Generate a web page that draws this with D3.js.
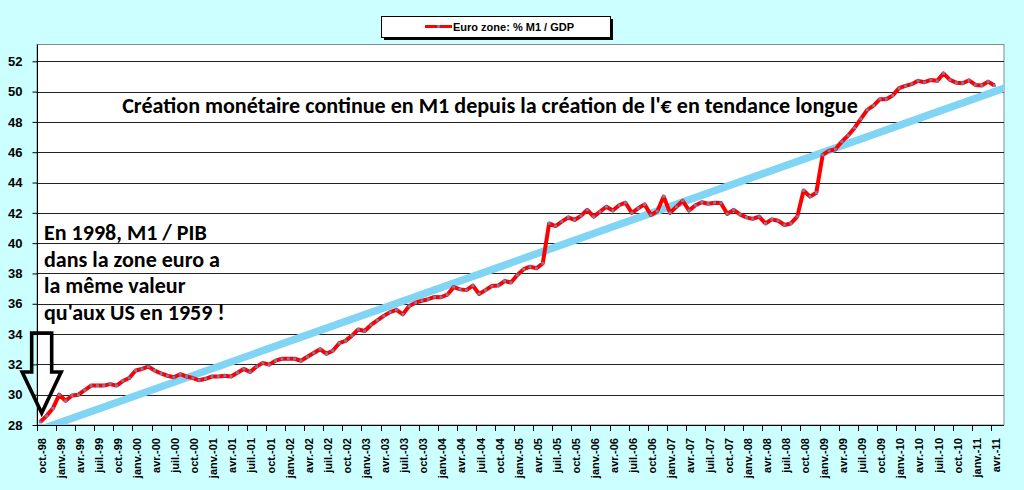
<!DOCTYPE html>
<html>
<head>
<meta charset="utf-8">
<script src="https://cdn.jsdelivr.net/npm/d3@7"></script>
<style>
  html, body { margin: 0; padding: 0; background: #ccffff; }
  svg { display: block; }
</style>
</head>
<body>
<svg id="chart" width="1024" height="490"></svg>
<script>
// french month abbreviations used by the category axis
const moisFr = ['janv.', 'févr.', 'mars', 'avr.', 'mai', 'juin', 'juil.', 'août', 'sept.', 'oct.', 'nov.', 'déc.'];
const firstMonth = new Date(1998, 9, 1);  // oct.-98
const lastMonth = new Date(2011, 4, 1);   // mai-11 (last slot, no value)

// Euro zone M1 / GDP in %, one value per month from oct.-98
const m1Gdp = [
  28.2, 28.6, 29.1, 30.0, 29.6, 29.95, 30.0, 30.3, 30.6, 30.6,
  30.6, 30.7, 30.6, 30.9, 31.1, 31.6, 31.7, 31.85, 31.6, 31.4,
  31.25, 31.15, 31.35, 31.2, 31.1, 30.95, 31.05, 31.2, 31.2, 31.25,
  31.2, 31.45, 31.7, 31.5, 31.85, 32.1, 31.98, 32.25, 32.37, 32.37,
  32.37, 32.24, 32.5, 32.75, 33.0, 32.7, 32.9, 33.4, 33.55, 33.9,
  34.3, 34.2, 34.6, 34.9, 35.2, 35.45, 35.6, 35.3, 35.85, 36.07,
  36.2, 36.3, 36.45, 36.43, 36.6, 37.1, 36.95, 36.9, 37.2, 36.65,
  36.9, 37.17, 37.2, 37.5, 37.4, 37.9, 38.28, 38.45, 38.34, 38.67,
  41.3, 41.13, 41.42, 41.7, 41.53, 41.8, 42.2, 41.75, 42.08, 42.4,
  42.15, 42.5, 42.67, 42.0, 42.3, 42.56, 41.86, 42.1, 43.08, 42.0,
  42.4, 42.8, 42.15, 42.5, 42.7, 42.6, 42.67, 42.65, 41.93, 42.2,
  41.9, 41.7, 41.6, 41.75, 41.3, 41.57, 41.48, 41.2, 41.3, 41.75,
  43.47, 43.07, 43.33, 45.82, 46.1, 46.2, 46.7, 47.1, 47.6, 48.2,
  48.8, 49.08, 49.5, 49.5, 49.74, 50.23, 50.38, 50.49, 50.71, 50.62,
  50.77, 50.71, 51.2, 50.77, 50.59, 50.55, 50.75, 50.44, 50.4, 50.66,
  50.4
];

const yTicks = d3.range(28, 53, 2);
// long term trend: [month index, value]
const trendPoints = [[0, 27.7], [151, 50.15]];

const seriesName = 'Euro zone:  % M1 / GDP';
const headline = "Création monétaire continue en M1 depuis la création de l'€ en tendance longue";
const noteLines = ['En 1998, M1 / PIB', 'dans la zone euro a', 'la même valeur', "qu'aux US en 1959 !"];

const months = d3.timeMonth.range(firstMonth, d3.timeMonth.offset(lastMonth, 1));
const fmtMonth = d => moisFr[d.getMonth()] + '-' + String(d.getFullYear()).slice(2);

const svg = d3.select('#chart');
const plot = { left: 37, right: 1004, top: 44.5, bottom: 425 };

let x = d3.scaleBand()
  .domain(d3.range(months.length))
  .range([plot.left, plot.right])
  .padding(0);
let bw = x.bandwidth();
let xc = i => x(i) + bw / 2;

let y = d3.scaleLinear()
  .domain([28, 52])
  .range([plot.bottom, 61.3]);

// plot area
svg.append('rect')
  .attr('x', plot.left).attr('y', plot.top)
  .attr('width', plot.right - plot.left).attr('height', plot.bottom - plot.top)
  .attr('fill', '#fff')
  .attr('stroke', '#888').attr('stroke-width', 1);

svg.append('clipPath').attr('id', 'clip')
  .append('rect')
  .attr('x', plot.left).attr('y', plot.top)
  .attr('width', plot.right - plot.left).attr('height', plot.bottom - plot.top);

// gridlines
svg.append('g')
  .selectAll('line')
  .data(yTicks.slice(1))
  .join('line')
  .attr('x1', plot.left).attr('x2', plot.right)
  .attr('y1', d => Math.round(y(d)) + 0.5).attr('y2', d => Math.round(y(d)) + 0.5)
  .attr('stroke', '#222').attr('stroke-width', 1);

// y axis
let yAxis = d3.axisLeft(y)
  .tickValues(yTicks)
  .tickSize(5)
  .tickPadding(10)
  .tickFormat(d3.format('d'));
let gy = svg.append('g')
  .attr('transform', `translate(${plot.left + 0.5},0)`)
  .call(yAxis);
gy.select('.domain').attr('stroke', '#000').attr('d', `M0,${plot.top}V${plot.bottom}`);
gy.selectAll('.tick line').attr('stroke', '#000');
gy.selectAll('.tick text')
  .attr('fill', '#000')
  .style('font-family', '"Liberation Sans Narrow", "Arial Narrow", "Liberation Sans", sans-serif')
  .style('font-weight', 'bold')
  .style('font-size', '13px');

// x axis: ticks every 3 months at category boundaries, labels on the first month
let gx = svg.append('g');
gx.append('line')
  .attr('x1', plot.left).attr('x2', plot.right)
  .attr('y1', plot.bottom + 0.5).attr('y2', plot.bottom + 0.5)
  .attr('stroke', '#000');
let tickIdx = d3.range(0, months.length + 1, 3);
gx.selectAll('.xt')
  .data(tickIdx)
  .join('line')
  .attr('class', 'xt')
  .attr('x1', d => Math.round(d < months.length ? x(d) : plot.right) + 0.5)
  .attr('x2', d => Math.round(d < months.length ? x(d) : plot.right) + 0.5)
  .attr('y1', plot.bottom).attr('y2', plot.bottom + 6)
  .attr('stroke', '#000');
gx.selectAll('.xl')
  .data(tickIdx.filter(d => d < months.length))
  .join('text')
  .attr('class', 'xl')
  .attr('transform', d => `translate(${xc(d) + 1.5},438) rotate(-90)`)
  .attr('text-anchor', 'end')
  .attr('dy', '0.35em')
  .style('font-family', '"Liberation Sans", Arial, sans-serif')
  .style('font-weight', 'bold')
  .style('font-size', '11px')
  .text(d => fmtMonth(months[d]));

// trend line, extended to the frame and clipped
let [p0, p1] = trendPoints;
let slope = (y(p1[1]) - y(p0[1])) / (xc(p1[0]) - xc(p0[0]));
let tY = px => y(p0[1]) + (px - xc(p0[0])) * slope;
svg.append('line')
  .attr('clip-path', 'url(#clip)')
  .attr('x1', plot.left - 10).attr('y1', tY(plot.left - 10))
  .attr('x2', plot.right + 10).attr('y2', tY(plot.right + 10))
  .attr('stroke', '#80d4f4')
  .attr('stroke-width', 7.5);

// series
let line = d3.line()
  .x((d, i) => xc(i))
  .y(d => y(d));
svg.append('path')
  .datum(m1Gdp)
  .attr('d', line)
  .attr('fill', 'none')
  .attr('stroke', '#ff0000')
  .attr('stroke-width', 4)
  .attr('stroke-linejoin', 'round');
svg.append('g')
  .selectAll('rect')
  .data(m1Gdp)
  .join('rect')
  .attr('x', (d, i) => xc(i) - 1.4)
  .attr('y', d => y(d) - 1.4)
  .attr('width', 2.8).attr('height', 2.8)
  .attr('fill', '#6f82b6');

// legend
let lg = svg.append('g').attr('transform', 'translate(381,16)');
lg.append('rect').attr('x', 3).attr('y', 3).attr('width', 229).attr('height', 21).attr('fill', '#000');
lg.append('rect').attr('x', 0.5).attr('y', 0.5).attr('width', 229).attr('height', 21)
  .attr('fill', '#fff').attr('stroke', '#000');
lg.append('line').attr('x1', 44).attr('x2', 71).attr('y1', 10.5).attr('y2', 10.5)
  .attr('stroke', '#ff0000').attr('stroke-width', 3);
lg.append('rect').attr('x', 56.1).attr('y', 9.1).attr('width', 2.8).attr('height', 2.8).attr('fill', '#6f82b6');
lg.append('text')
  .attr('x', 72).attr('y', 14.5)
  .style('font-family', '"Liberation Sans", Arial, sans-serif')
  .style('font-weight', 'bold')
  .style('font-size', '11px')
  .text(seriesName);

// fit a text element to a given width by adjusting its font size
function fitWidth(sel, target) {
  let w = sel.node().getComputedTextLength();
  let fs = parseFloat(sel.style('font-size'));
  sel.style('font-size', (fs * target / w).toFixed(2) + 'px');
}

const noteFont = 'Carlito, Lato, "Open Sans", sans-serif';

let head = svg.append('text')
  .attr('x', 490).attr('y', 113)
  .attr('text-anchor', 'middle')
  .style('font-family', noteFont)
  .style('font-weight', 'bold')
  .style('font-size', '18px')
  .text(headline);
fitWidth(head, 736);

let notes = svg.append('g')
  .selectAll('text')
  .data(noteLines)
  .join('text')
  .attr('x', 44)
  .attr('y', (d, i) => 240 + i * 26.5)
  .style('font-family', noteFont)
  .style('font-weight', 'bold')
  .style('font-size', '20px')
  .text(d => d);
let ref = notes.filter((d, i) => i === 1);
let w0 = ref.node().getComputedTextLength();
let nfs = 20 * 176 / w0;
notes.style('font-size', nfs.toFixed(2) + 'px');

// hollow arrow pointing at the first value
let tipX = xc(0) + 1.5, tipY = y(m1Gdp[0]) - 9;
let arrow = [
  [tipX - 10, tipY - 80], [tipX + 10, tipY - 80], [tipX + 10, tipY - 41],
  [tipX + 19.5, tipY - 41], [tipX, tipY], [tipX - 19.5, tipY - 41], [tipX - 10, tipY - 41]
];
svg.append('path')
  .attr('d', d3.line()(arrow) + 'Z')
  .attr('fill', 'none')
  .attr('stroke', '#000')
  .attr('stroke-width', 3.6)
  .attr('stroke-linejoin', 'miter');
</script>
</body>
</html>
